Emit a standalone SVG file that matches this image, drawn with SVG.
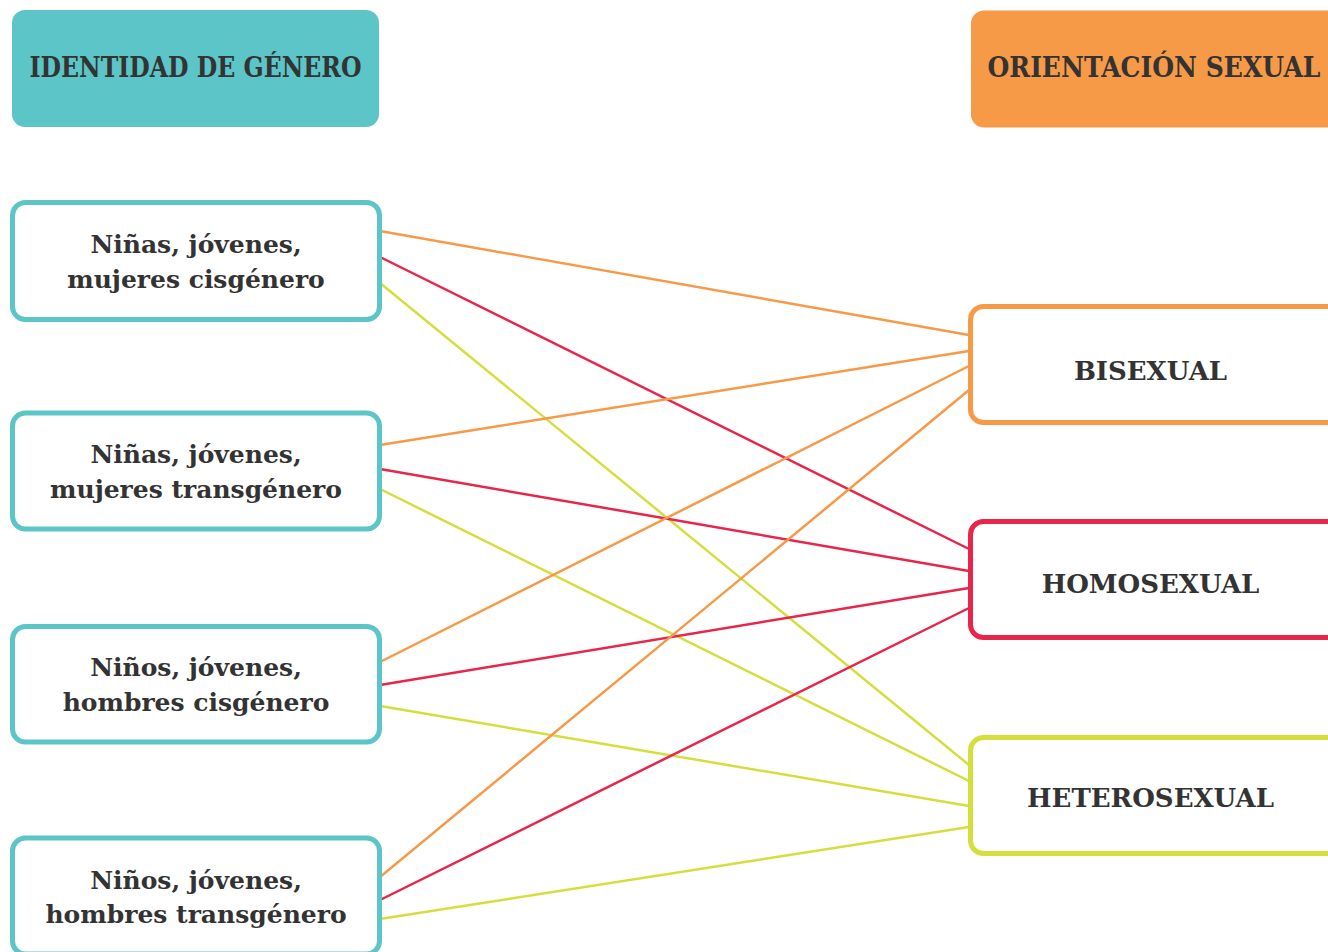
<svg xmlns="http://www.w3.org/2000/svg" width="1328" height="952" viewBox="0 0 1328 952">
<style>
.t{font-family:"DejaVu Serif","Liberation Serif",serif;font-weight:bold;fill:#333333;text-anchor:middle}
.hd{font-size:27px}
.lb{font-size:25px}
.rb{font-size:26px}
.lbox{fill:#ffffff;stroke:#5BC5C7;stroke-width:5}
.c{fill:none;stroke-width:2.5;stroke-linecap:round}
.o{stroke:#F79A48}.r{stroke:#E8254A}.y{stroke:#D4DE3C}
</style>
<rect width="1328" height="952" fill="#ffffff"/>
<g id="connectors">
<line class="c o" x1="380" y1="231" x2="969" y2="335"/>
<line class="c r" x1="380" y1="257" x2="969" y2="549"/>
<line class="c y" x1="380" y1="283" x2="969" y2="765"/>
<line class="c o" x1="380" y1="445" x2="969" y2="351"/>
<line class="c r" x1="380" y1="469" x2="969" y2="571"/>
<line class="c y" x1="380" y1="489" x2="969" y2="781"/>
<line class="c o" x1="380" y1="662" x2="969" y2="366"/>
<line class="c r" x1="380" y1="685" x2="969" y2="588"/>
<line class="c y" x1="380" y1="706" x2="969" y2="806"/>
<line class="c o" x1="380" y1="877" x2="969" y2="390"/>
<line class="c r" x1="380" y1="900" x2="969" y2="608"/>
<line class="c y" x1="380" y1="919" x2="969" y2="827"/>
</g>
<g id="header-identidad">
<rect x="12" y="10" width="367" height="117" rx="13" fill="#5BC5C7"/>
<text class="t hd" x="195.5" y="77" textLength="332" lengthAdjust="spacingAndGlyphs">IDENTIDAD DE GÉNERO</text>
</g>
<g id="header-orientacion">
<rect x="971" y="10.5" width="400" height="117" rx="13" fill="#F79A48"/>
<text class="t hd" x="1154" y="77" textLength="333" lengthAdjust="spacingAndGlyphs">ORIENTACIÓN SEXUAL</text>
</g>
<g id="n-ninas-cis">
<rect class="lbox" x="12.5" y="202.5" width="367" height="117" rx="13"/>
<text class="t lb" x="196" y="253">Niñas, jóvenes,</text>
<text class="t lb" x="196" y="288">mujeres cisgénero</text>
</g>
<g id="n-ninas-trans">
<rect class="lbox" x="12.5" y="413" width="367" height="116" rx="13"/>
<text class="t lb" x="196" y="463">Niñas, jóvenes,</text>
<text class="t lb" x="196" y="498">mujeres transgénero</text>
</g>
<g id="n-ninos-cis">
<rect class="lbox" x="12.5" y="626.5" width="367" height="115.5" rx="13"/>
<text class="t lb" x="196" y="676">Niños, jóvenes,</text>
<text class="t lb" x="196" y="711">hombres cisgénero</text>
</g>
<g id="n-ninos-trans">
<rect class="lbox" x="12.5" y="838" width="367" height="116" rx="13"/>
<text class="t lb" x="196" y="889">Niños, jóvenes,</text>
<text class="t lb" x="196" y="923">hombres transgénero</text>
</g>
<g id="n-bisexual">
<rect x="970.5" y="306.5" width="400" height="116" rx="13" fill="#ffffff" stroke="#F79A48" stroke-width="5"/>
<text class="t rb" x="1150.5" y="380">BISEXUAL</text>
</g>
<g id="n-homosexual">
<rect x="970.5" y="521.5" width="400" height="116" rx="13" fill="#ffffff" stroke="#E8254A" stroke-width="5"/>
<text class="t rb" x="1150.5" y="593">HOMOSEXUAL</text>
</g>
<g id="n-heterosexual">
<rect x="970.5" y="737.5" width="400" height="116" rx="13" fill="#ffffff" stroke="#D4DE3C" stroke-width="5"/>
<text class="t rb" x="1150.5" y="807">HETEROSEXUAL</text>
</g>
</svg>
